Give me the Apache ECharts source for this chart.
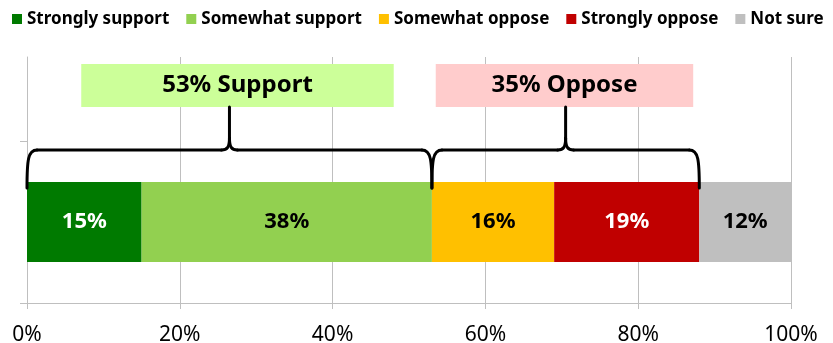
<!DOCTYPE html>
<html>
<head>
<meta charset="utf-8">
<script src="https://cdn.jsdelivr.net/npm/echarts@6/dist/echarts.min.js"></script>
<style>
  html, body { margin: 0; padding: 0; background: #fff; }
  #chart { width: 833px; height: 343px; }
</style>
</head>
<body>
<div id="chart"></div>
<script>
// one stacked bar of survey answers (percent)
var categories = ['All']
var seriesNames = ['Strongly support', 'Somewhat support', 'Somewhat oppose', 'Strongly oppose', 'Not sure']
var stronglySupport = [15]
var somewhatSupport = [38]
var somewhatOppose = [16]
var stronglyOppose = [19]
var notSure = [12]
var xTicks = [0, 20, 40, 60, 80, 100]

var values = [stronglySupport, somewhatSupport, somewhatOppose, stronglyOppose, notSure]
var colors = ['#007a00', '#92d050', '#ffc000', '#c00000', '#bfbfbf']
var labelColors = ['#fff', '#000', '#000', '#fff', '#000']
var font = 'Noto Sans'
var gridGray = '#bfbfbf'

var support = stronglySupport[0] + somewhatSupport[0]
var oppose = somewhatOppose[0] + stronglyOppose[0]

var chart = echarts.init(document.getElementById('chart'))

var series = seriesNames.map(function(name, i) {
  return {
    name: name,
    type: 'bar',
    stack: 'total',
    xAxisIndex: 1,
    yAxisIndex: 1,
    barWidth: '100%',
    data: values[i],
    itemStyle: { color: colors[i] },
    label: {
      show: true,
      position: 'inside',
      formatter: '{c}%',
      color: labelColors[i],
      fontFamily: font,
      fontSize: 22,
      fontWeight: 'bold'
    }
  }
})

chart.setOption({
  animation: false,
  color: colors,
  legend: {
    data: seriesNames,
    left: 7,
    top: 4,
    icon: 'rect',
    itemWidth: 10,
    itemHeight: 10,
    itemGap: 17,
    textStyle: { fontFamily: font, fontSize: 17, fontWeight: 'bold', color: '#000', lineHeight: 20 }
  },
  grid: [
    { left: 27, right: 42, top: 57, bottom: 40, outerBoundsMode: 'none' },
    { left: 27, right: 42, top: 182, height: 80, outerBoundsMode: 'none' }
  ],
  xAxis: [
    {
      type: 'value',
      gridIndex: 0,
      min: xTicks[0],
      max: xTicks[xTicks.length - 1],
      interval: xTicks[1] - xTicks[0],
      axisLine: { show: true, lineStyle: { color: gridGray } },
      axisTick: { show: true, length: 6, lineStyle: { color: gridGray } },
      splitLine: { show: true, lineStyle: { color: gridGray } },
      axisLabel: { formatter: '{value}%', fontFamily: font, fontSize: 21, color: '#000', margin: 22 }
    },
    { type: 'value', gridIndex: 1, min: xTicks[0], max: xTicks[xTicks.length - 1], show: false }
  ],
  yAxis: [
    {
      type: 'value',
      gridIndex: 0,
      min: 0,
      max: 1.525,
      axisLine: { show: true, lineStyle: { color: gridGray } },
      axisTick: { show: true, length: 7, customValues: [0, 1], lineStyle: { color: gridGray } },
      axisLabel: { show: false },
      splitLine: { show: false }
    },
    { type: 'category', gridIndex: 1, data: categories, show: false }
  ],
  series: series
})

// braces + summary boxes above the bar
var px = function(v) { return chart.convertToPixel({ xAxisIndex: 0 }, v) }
var groups = [
  { text: support + '% Support', from: 0, to: support, fill: '#ccff99', box: [7.1, 48.0] },
  { text: oppose + '% Oppose', from: support, to: support + oppose, fill: '#ffcccc', box: [53.5, 87.2] }
]
var boxTop = 64, boxBottom = 107, braceY = 150, braceBottom = 188
var braceStyle = { stroke: '#000', lineWidth: 3, fill: null, lineCap: 'round' }

function curve(p1, c1, c2, p2) {
  return {
    type: 'bezierCurve', z: 12,
    shape: { x1: p1[0], y1: p1[1], cpx1: c1[0], cpy1: c1[1], cpx2: c2[0], cpy2: c2[1], x2: p2[0], y2: p2[1] },
    style: braceStyle
  }
}
function seg(p1, p2) {
  return {
    type: 'line', z: 12,
    shape: { x1: p1[0], y1: p1[1], x2: p2[0], y2: p2[1] },
    style: braceStyle
  }
}
function brace(a, b) {
  var m = (a + b) / 2
  var h = braceY
  return [
    curve([a, braceBottom], [a, h + 10], [a + 1, h], [a + 10, h]),
    seg([a + 10, h], [m - 8, h]),
    curve([m - 8, h], [m - 2, h], [m, h - 3], [m, h - 12]),
    seg([m, h - 12], [m, boxBottom]),
    curve([m, h - 12], [m, h - 3], [m + 2, h], [m + 8, h]),
    seg([m + 8, h], [b - 10, h]),
    curve([b - 10, h], [b - 1, h], [b, h + 10], [b, braceBottom])
  ]
}

var graphic = []
groups.forEach(function(g) {
  var x0 = px(g.box[0]), x1 = px(g.box[1])
  graphic.push({
    type: 'rect',
    z: 10,
    shape: { x: x0, y: boxTop, width: x1 - x0, height: boxBottom - boxTop },
    style: { fill: g.fill }
  })
  graphic.push({
    type: 'text',
    z: 11,
    x: (x0 + x1) / 2,
    y: (boxTop + boxBottom) / 2,
    style: {
      text: g.text,
      textAlign: 'center',
      textVerticalAlign: 'middle',
      fill: '#000',
      fontFamily: font,
      fontSize: 24,
      fontWeight: 'bold'
    }
  })
  graphic = graphic.concat(brace(px(g.from), px(g.to)))
})
chart.setOption({ graphic: graphic })
</script>
</body>
</html>
